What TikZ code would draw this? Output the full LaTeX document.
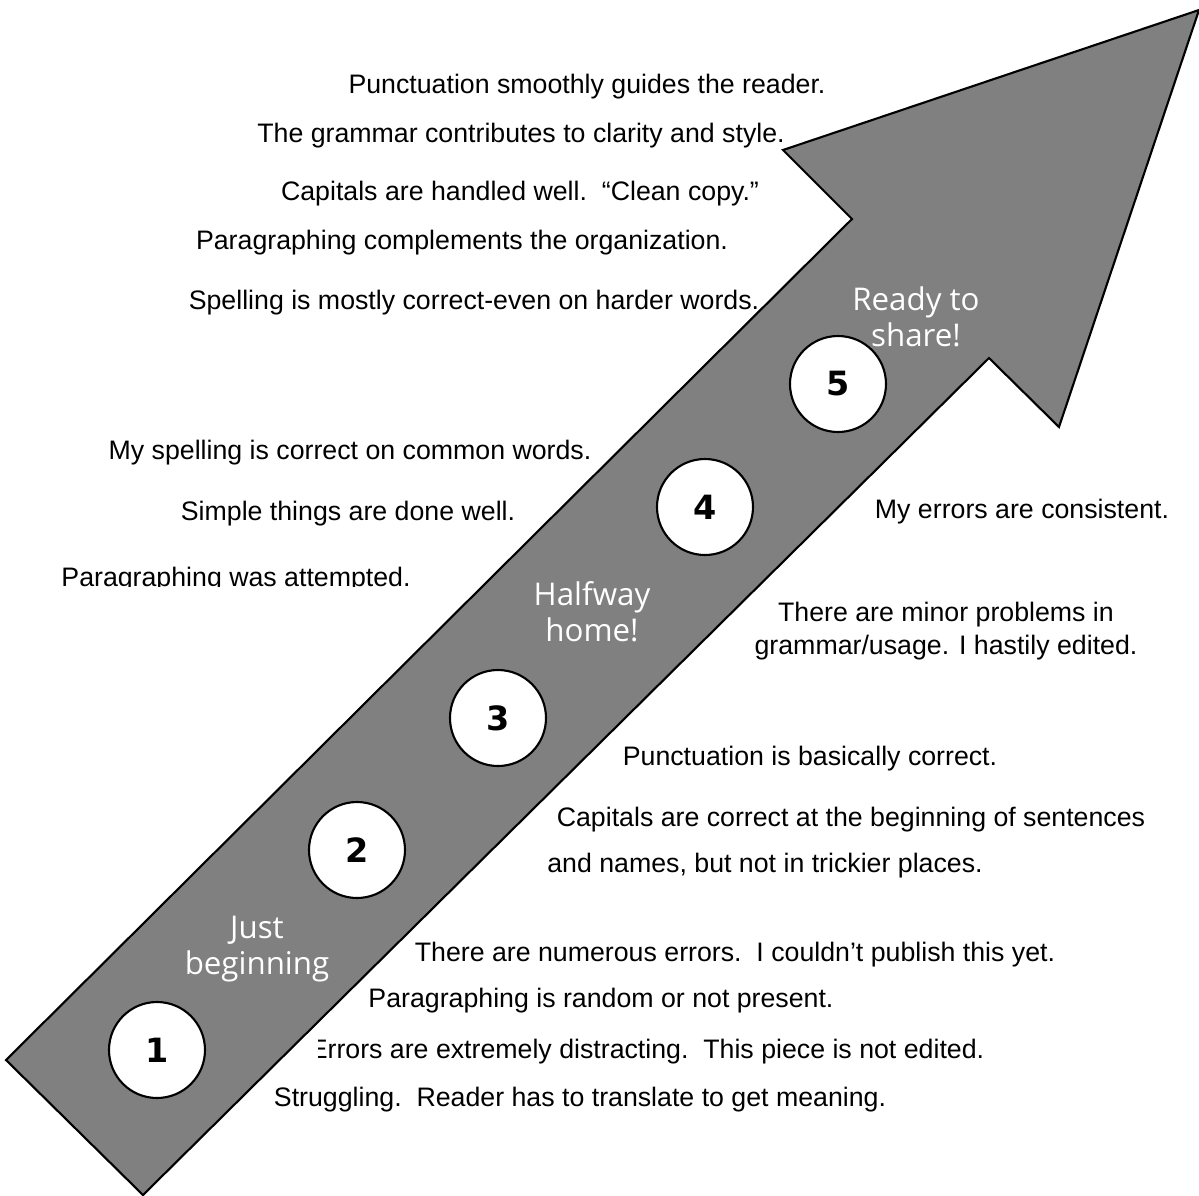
\documentclass[tikz,border=0pt]{standalone}
\usepackage{fontspec}
\setmainfont{Liberation Sans}
\newfontfamily\labfont{Open Sans}
\newfontfamily\numfont{DejaVu Sans}
\definecolor{arrowgray}{HTML}{808080}
\begin{document}
\begin{tikzpicture}[x=0.01cm,y=-0.01cm,
  txt/.style={inner sep=0pt,font=\fontsize{7.6pt}{9pt}\selectfont,text=black},
  wlab/.style={inner sep=0pt,align=center,text=white,font=\labfont\fontsize{8.9pt}{10.2pt}\selectfont},
  stepcirc/.style={circle,draw=black,line width=0.6pt,fill=white,minimum size=96*0.01cm,inner sep=0pt,font=\numfont\bfseries\fontsize{9.5pt}{10pt}\selectfont}]
\useasboundingbox (0,0) rectangle (1199,1196);
% arrow
\draw[line width=0.6pt,fill=arrowgray] (6,1060) -- (852,219) -- (783,150) -- (1199,10) -- (1059,427) -- (989,358) -- (143,1195) -- cycle;
% circles
\node[stepcirc] (c1) at (157,1050) {1};
\node[stepcirc] (c2) at (357,850) {2};
\node[stepcirc] (c3) at (498,718) {3};
\node[stepcirc] (c4) at (705,507) {4};
\node[stepcirc] (c5) at (838,384) {5};
% white labels
\node[wlab] (l5) at (916,317) {Ready to\\share!};
\node[wlab] (l3) at (592,612) {Halfway\\home!};
\node[wlab] (l1) at (257,949) {Just\\beginning};
% texts
\node[txt] (t1) at (587,87) {Punctuation smoothly guides the reader.};
\node[txt] (t2) at (521,136) {The grammar contributes to clarity and style.};
\node[txt] (t3) at (520,194) {Capitals are handled well.\ \ “Clean copy.”};
\node[txt] (t4) at (462,243) {Paragraphing complements the organization.};
\node[txt] (t5) at (474,303) {Spelling is mostly correct-even on harder words.};
\node[txt] (t6) at (350,453) {My spelling is correct on common words.};
\node[txt] (t7) at (348,514) {Simple things are done well.};
\begin{scope}
\clip (0,0) rectangle (700,586);
\node[txt,anchor=base] (t8) at (236,586) {Paragraphing was attempted.};
\end{scope}
\node[txt] (t9) at (1022,512) {My errors are consistent.};
\node[txt,align=center] (t10) at (946,631) {There are minor problems in\\[0.6pt]grammar/usage. I hastily edited.};
\node[txt] (t11) at (810,759) {Punctuation is basically correct.};
\node[txt] (t12) at (851,820) {Capitals are correct at the beginning of sentences};
\node[txt] (t13) at (765,866) {and names, but not in trickier places.};
\node[txt] (t14) at (735,955) {There are numerous errors.\ \ I couldn’t publish this yet.};
\node[txt] (t15) at (601,1001) {Paragraphing is random or not present.};
\begin{scope}
\clip (318,1000) rectangle (1199,1100);
\node[txt] (t16) at (647,1052) {Errors are extremely distracting.\ \ This piece is not edited.};
\end{scope}
\node[txt] (t17) at (580,1100) {Struggling.\ \ Reader has to translate to get meaning.};
\end{tikzpicture}
\end{document}
